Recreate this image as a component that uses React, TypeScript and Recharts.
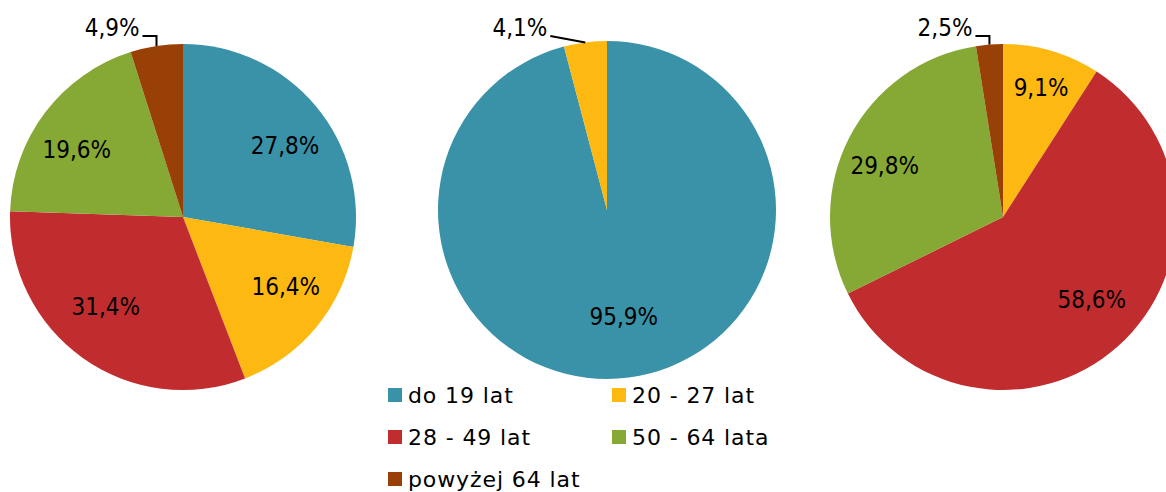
import { Cell, Pie, PieChart } from "recharts";

const categories = ["do 19 lat", "20 - 27 lat", "28 - 49 lat", "50 - 64 lata", "powyżej 64 lat"];
const colors = ["#3A92A8", "#FDB812", "#C12D2F", "#86A834", "#984005"];

const pieLeft = [27.8, 16.4, 31.4, 19.6, 4.9];
const pieMiddle = [95.9, 4.1, 0, 0, 0];
const pieRight = [0, 9.1, 58.6, 29.8, 2.5];

const LABEL_FONT = "'DejaVu Sans Condensed', 'DejaVu Sans', sans-serif";
const LEGEND_FONT = "'DejaVu Sans', sans-serif";
const RAD = Math.PI / 180;

const pies = [
  { key: "left", values: pieLeft, cx: 183, cy: 217, r: 173, slant: false },
  { key: "middle", values: pieMiddle, cx: 607, cy: 210, r: 169, slant: true },
  { key: "right", values: pieRight, cx: 1003, cy: 217, r: 173, slant: false },
];

const fmt = (v: number) => v.toFixed(1).replace(".", ",") + "%";

function makeLabel(slant: boolean) {
  return (props: any) => {
    const { cx, cy, midAngle, outerRadius, value } = props;
    if (!value) return null;
    const cos = Math.cos(-midAngle * RAD);
    const sin = Math.sin(-midAngle * RAD);
    if (value < 5) {
      const px = cx + outerRadius * cos;
      const py = cy + outerRadius * sin;
      const ty = 36;
      const endX = slant ? px - 35 : px - 14;
      const path = slant
        ? `M${endX},${ty} L${px},${py}`
        : `M${endX},${ty} L${px},${ty} L${px},${py}`;
      return (
        <g>
          <path d={path} stroke="#000" strokeWidth={2} fill="none" />
          <text x={endX - 3} y={28} textAnchor="end" dominantBaseline="central" fontFamily={LABEL_FONT} fontSize={24} fill="#000">
            {fmt(value)}
          </text>
        </g>
      );
    }
    // roughly the "best fit" placement: flattened ring, narrow slices pushed outward
    const narrow = value < 12;
    const rx = outerRadius * (narrow ? 0.78 : 0.77);
    const ry = outerRadius * (narrow ? 0.78 : 0.64);
    return (
      <text
        x={cx + rx * cos}
        y={cy + ry * sin}
        textAnchor="middle"
        dominantBaseline="central"
        fontFamily={LABEL_FONT}
        fontSize={24}
        fill="#000"
      >
        {fmt(value)}
      </text>
    );
  };
}

function Legend() {
  const items = categories.map((name, i) => ({ name, color: colors[i] }));
  return (
    <div
      style={{
        position: "absolute",
        left: 388,
        top: 380,
        width: 420,
        display: "grid",
        gridTemplateColumns: "224px 190px",
        rowGap: 12,
        fontFamily: LEGEND_FONT,
        fontSize: 22,
        letterSpacing: 0.9,
        color: "#000",
      }}
    >
      {items.map((it) => (
        <div key={it.name} style={{ display: "flex", alignItems: "center", height: 30, whiteSpace: "nowrap" }}>
          <span style={{ width: 14, height: 14, background: it.color, marginRight: 6, display: "inline-block" }} />
          {it.name}
        </div>
      ))}
    </div>
  );
}

export default function App() {
  return (
    <div style={{ position: "absolute", left: 0, top: 0, width: 1166, height: 492, background: "#fff", overflow: "hidden" }}>
      <PieChart width={1166} height={492} margin={{ top: 0, right: 0, bottom: 0, left: 0 }}>
        {pies.map((p) => (
          <Pie
            key={p.key}
            data={p.values.map((v, i) => ({ name: categories[i], value: v }))}
            dataKey="value"
            cx={p.cx}
            cy={p.cy}
            outerRadius={p.r}
            startAngle={90}
            endAngle={-270}
            stroke="none"
            labelLine={false}
            label={makeLabel(p.slant)}
            isAnimationActive={false}
          >
            {p.values.map((_, i) => (
              <Cell key={i} fill={colors[i]} />
            ))}
          </Pie>
        ))}
      </PieChart>
      <Legend />
    </div>
  );
}
